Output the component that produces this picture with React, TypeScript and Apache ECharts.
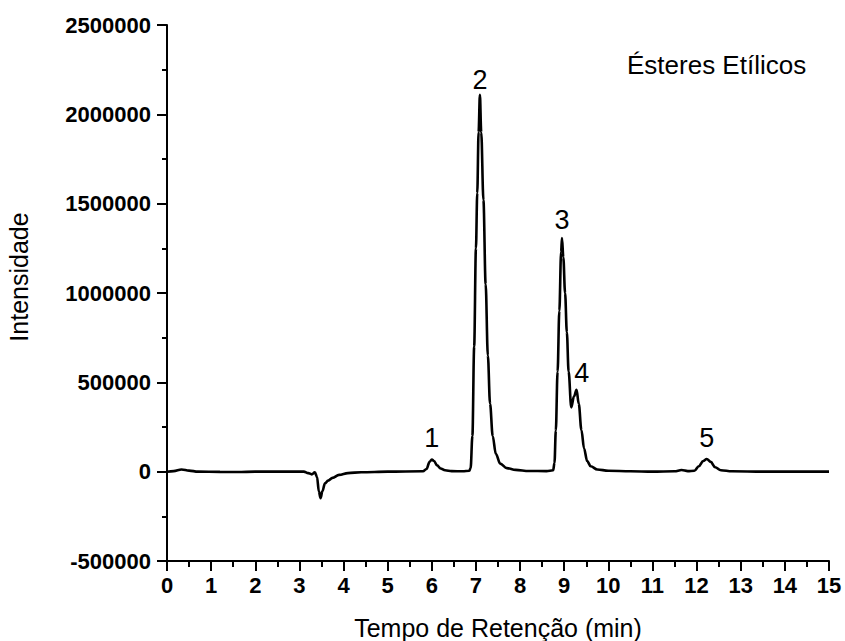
import React, { useEffect, useRef } from "react";
import * as echarts from "echarts";

// Chromatogram trace: [retention time (min), intensity]
const retentionTimes: number[] = [
  0, 0.15, 0.33, 0.5, 0.7, 1.2, 1.6, 2.0, 3.1, 3.2, 3.28, 3.35, 3.4, 3.44, 3.48, 3.52, 3.58, 3.65, 3.75, 3.9,
  4.1, 4.4, 5.0, 5.8, 5.88, 5.95, 6.0, 6.05, 6.12, 6.2, 6.3, 6.45, 6.7, 6.85, 6.88, 6.92, 6.96, 7.0, 7.03, 7.06,
  7.09, 7.12, 7.17, 7.22, 7.27, 7.32, 7.38, 7.45, 7.55, 7.7, 7.9, 8.2, 8.6, 8.75, 8.78, 8.81, 8.85, 8.89, 8.93, 8.95,
  8.98, 9.02, 9.06, 9.1, 9.16, 9.22, 9.28, 9.33, 9.39, 9.45, 9.52, 9.6, 9.75, 10.0, 10.5, 11.0, 11.5, 11.66, 11.8, 11.95,
  12.05, 12.15, 12.23, 12.32, 12.42, 12.55, 12.8, 13.5, 15.0,
];
const intensities: number[] = [
  0, 3000, 12000, 6000, 0, -1000, -2000, 0, 0, -8000, -15000, -3000, -30000, -110000, -148000, -110000, -65000, -50000, -35000, -18000,
  -8000, -3000, 0, 2000, 15000, 55000, 68000, 60000, 35000, 18000, 8000, 3000, 2000, 5000, 20000, 200000, 700000, 1250000, 1560000, 1900000,
  2110000, 1900000, 1520000, 1050000, 650000, 380000, 200000, 100000, 45000, 20000, 10000, 4000, 3000, 8000, 50000, 230000, 560000, 900000, 1230000, 1307000,
  1200000, 1000000, 780000, 560000, 360000, 420000, 458000, 380000, 233000, 130000, 60000, 30000, 12000, 5000, 2000, 0, 2000, 9000, 3000, 5000,
  30000, 60000, 71000, 55000, 25000, 8000, 2000, 0, 0,
];

// Peak labels
const peakNames: string[] = ["1", "2", "3", "4", "5"];
const peakLabelX: number[] = [6.0, 7.09, 8.95, 9.4, 12.23];
const peakLabelY: number[] = [186000, 2191000, 1411000, 552000, 189000];

const xTicks = { min: 0, max: 15, interval: 1 };
const yTicks = { min: -500000, max: 2500000, interval: 500000 };

const title = "Ésteres Etílicos";
const xName = "Tempo de Retenção (min)";
const yName = "Intensidade";

export default function App() {
  const ref = useRef<HTMLDivElement>(null);
  useEffect(() => {
    if (!ref.current) return;
    const chart = echarts.init(ref.current, undefined, { renderer: "svg" });
    const trace = retentionTimes.map((t, i) => [t, intensities[i]]);
    const labels = peakNames.map((n, i) => ({ name: n, value: [peakLabelX[i], peakLabelY[i]] }));
    const font = "Liberation Sans, Arial, Helvetica, sans-serif";
    chart.setOption({
      animation: false,
      backgroundColor: "#ffffff",
      grid: { left: 167, right: 16, top: 25, bottom: 80, containLabel: false },
      xAxis: {
        type: "value",
        min: xTicks.min,
        max: xTicks.max,
        interval: xTicks.interval,
        axisLine: { show: true, onZero: false, lineStyle: { color: "#000", width: 2 } },
        axisTick: { show: true, inside: false, length: 10, lineStyle: { color: "#000", width: 2 } },
        minorTick: { show: true, splitNumber: 2, length: 6, lineStyle: { color: "#000", width: 2 } },
        splitLine: { show: false },
        axisLabel: { color: "#000", fontSize: 22, fontWeight: "bold", fontFamily: font, margin: 13 },
      },
      yAxis: {
        type: "value",
        min: yTicks.min,
        max: yTicks.max,
        interval: yTicks.interval,
        axisLine: { show: true, onZero: false, lineStyle: { color: "#000", width: 2 } },
        axisTick: { show: true, inside: false, length: 10, lineStyle: { color: "#000", width: 2 } },
        minorTick: { show: true, splitNumber: 2, length: 5, lineStyle: { color: "#000", width: 2 } },
        splitLine: { show: false },
        axisLabel: {
          color: "#000",
          fontSize: 22,
          fontWeight: "bold",
          fontFamily: font,
          margin: 16,
          formatter: (v: number) => String(v),
        },
      },
      graphic: [
        {
          type: "text",
          left: 627,
          top: 52,
          style: { text: title, fontSize: 26, fontFamily: font, fill: "#000" },
        },
        {
          type: "text",
          x: 498,
          y: 628,
          style: { text: xName, fontSize: 25, fontFamily: font, fill: "#000", align: "center", verticalAlign: "middle" },
        },
        {
          type: "text",
          x: 19,
          y: 277,
          rotation: Math.PI / 2,
          style: { text: yName, fontSize: 25, fontFamily: font, fill: "#000", align: "center", verticalAlign: "middle" },
        },
      ],
      series: [
        {
          type: "line",
          data: trace,
          showSymbol: false,
          symbol: "none",
          smooth: 0.35,
          smoothMonotone: "x",
          lineStyle: { color: "#000", width: 2.6 },
          z: 3,
        },
        {
          type: "scatter",
          data: labels,
          symbolSize: 1,
          itemStyle: { color: "rgba(0,0,0,0)", opacity: 1 },
          label: {
            show: true,
            position: "inside",
            formatter: "{b}",
            color: "#000",
            opacity: 1,
            textBorderWidth: 0,
            fontSize: 27,
            fontFamily: font,
          },
          z: 4,
        },
      ],
    });
    return () => chart.dispose();
  }, []);
  return <div ref={ref} style={{ width: 845, height: 641, position: "absolute", left: 0, top: 0 }} />;
}
